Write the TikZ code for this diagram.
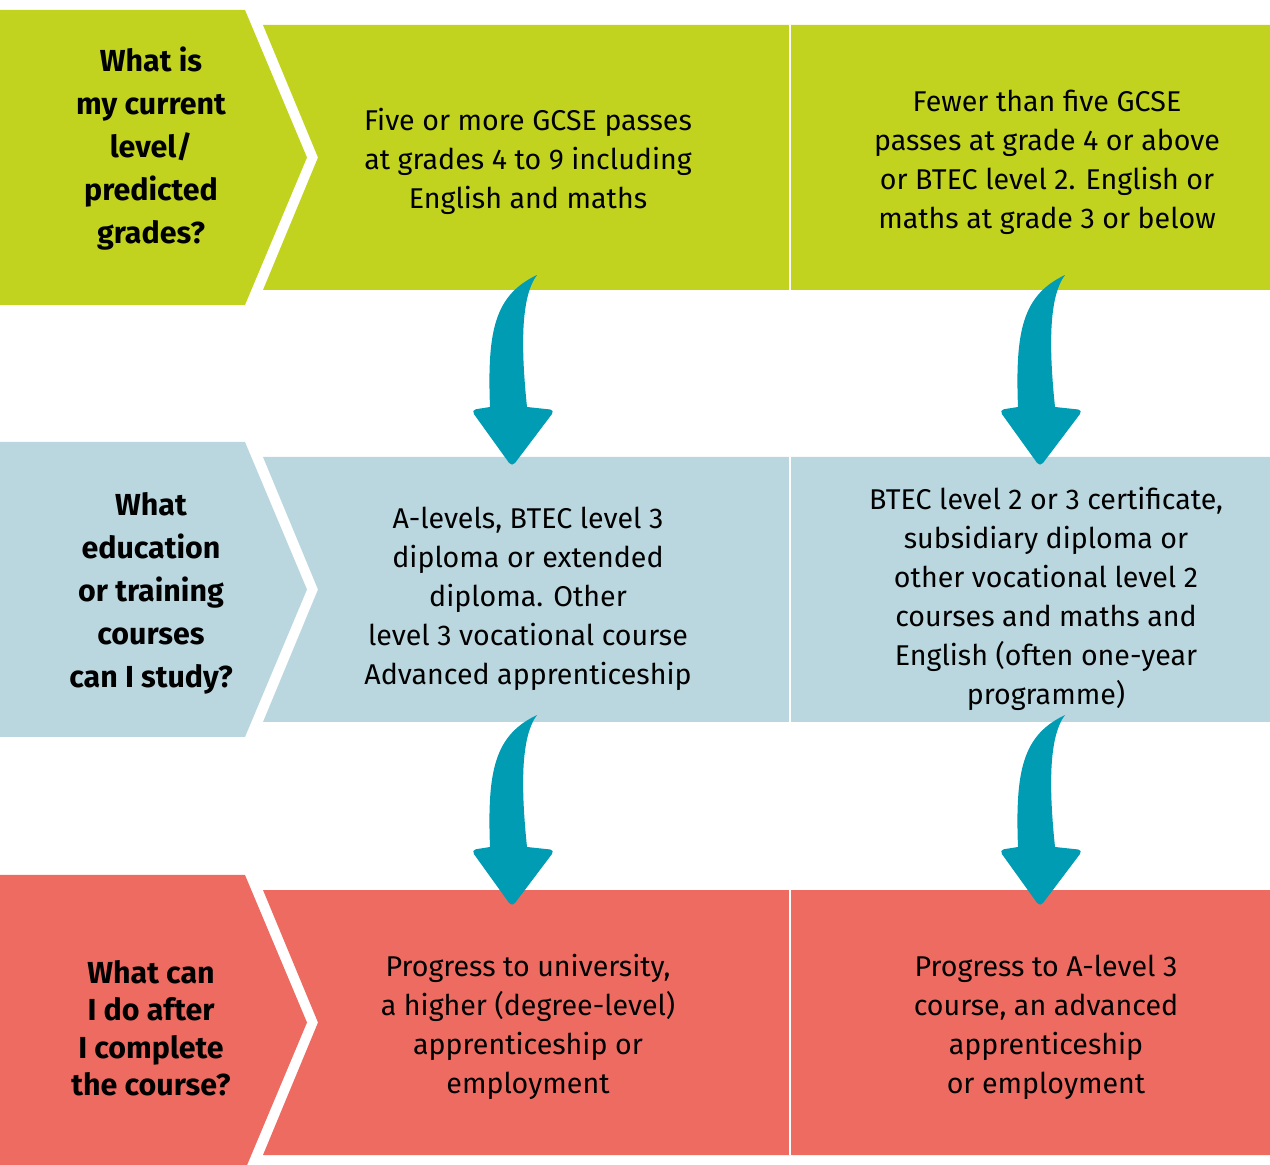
\documentclass[tikz,border=0pt]{standalone}
\usepackage{fontspec}
\setmainfont{Fira Sans}
\usepackage{tikz}
\usetikzlibrary{positioning}

\definecolor{rowgreen}{RGB}{193,211,31}
\definecolor{rowblue}{RGB}{186,215,223}
\definecolor{rowred}{RGB}{238,107,98}
\definecolor{arrowteal}{RGB}{0,156,180}

\begin{document}
\begin{tikzpicture}[x=0.5pt, y=-0.5pt,
        question/.style={align=center, font=\fontsize{15.2}{21.5}\selectfont\bfseries},
        answer/.style={align=center, font=\fontsize{14.3}{19.5}\selectfont},
        bendarrow/.pic={
            \fill[arrowteal] (25,-192) .. controls (10,-172) and (8,-127) .. (15,-60)
                [rounded corners=2.5pt] -- (43,-57) -- (0,0) -- (-41,-57) [sharp corners] -- (-22,-60)
                .. controls (-25,-137) and (-17,-172) .. (25,-192) -- cycle;
        }]
        \useasboundingbox (0,0) rectangle (1270,1165);
        \clip (0,0) rectangle (1270,1165);

        % Bands
        \foreach \top/\col in {10/rowgreen, 442/rowblue, 875/rowred} {
            \fill[\col] (0,\top) -- (245,\top) -- (307,\top+147.5) -- (245,\top+295) -- (0,\top+295) -- cycle;
            \fill[\col] (263,\top+15) -- (1270,\top+15) -- (1270,\top+280) -- (263,\top+280) -- (318,\top+147.5) -- cycle;
            \draw[white, line width=1pt] (790,\top+15) -- (790,\top+280);
        }

        % Nodes
        \node (q1) [question] at (151,149) {What is\\my current\\level/\\predicted\\grades?};
        \node (a1) [answer] at (528,161) {Five or more GCSE passes\\at grades 4 to 9 including\\English and maths};
        \node (b1) [answer] at (1047,162) {Fewer than five GCSE\\passes at grade 4 or above\\or BTEC level 2. English or\\maths at grade 3 or below};

        \node (q2) [question] at (151,593) {What\\education\\or training\\courses\\can I study?};
        \node (a2) [answer] at (528,599) {A-levels, BTEC level 3\\diploma or extended\\diploma. Other\\level 3 vocational course\\Advanced apprenticeship};
        \node (b2) [answer] at (1046,599) {BTEC level 2 or 3 certificate,\\subsidiary diploma or\\other vocational level 2\\courses and maths and\\English (often one-year\\programme)};

        \node (q3) [question, font=\fontsize{15.2}{18.75}\selectfont\bfseries] at (151,1028) {What can\\I do after\\I complete\\the course?};
        \node (a3) [answer] at (528,1027) {Progress to university,\\a higher (degree-level)\\apprenticeship or\\employment};
        \node (b3) [answer] at (1046,1027) {Progress to A-level 3\\course, an advanced\\apprenticeship\\or employment};

        % Arrows
        \pic at (512,467) {bendarrow};
        \pic at (1040,467) {bendarrow};
        \pic at (512,907) {bendarrow};
        \pic at (1040,907) {bendarrow};
    \end{tikzpicture}
\end{document}
